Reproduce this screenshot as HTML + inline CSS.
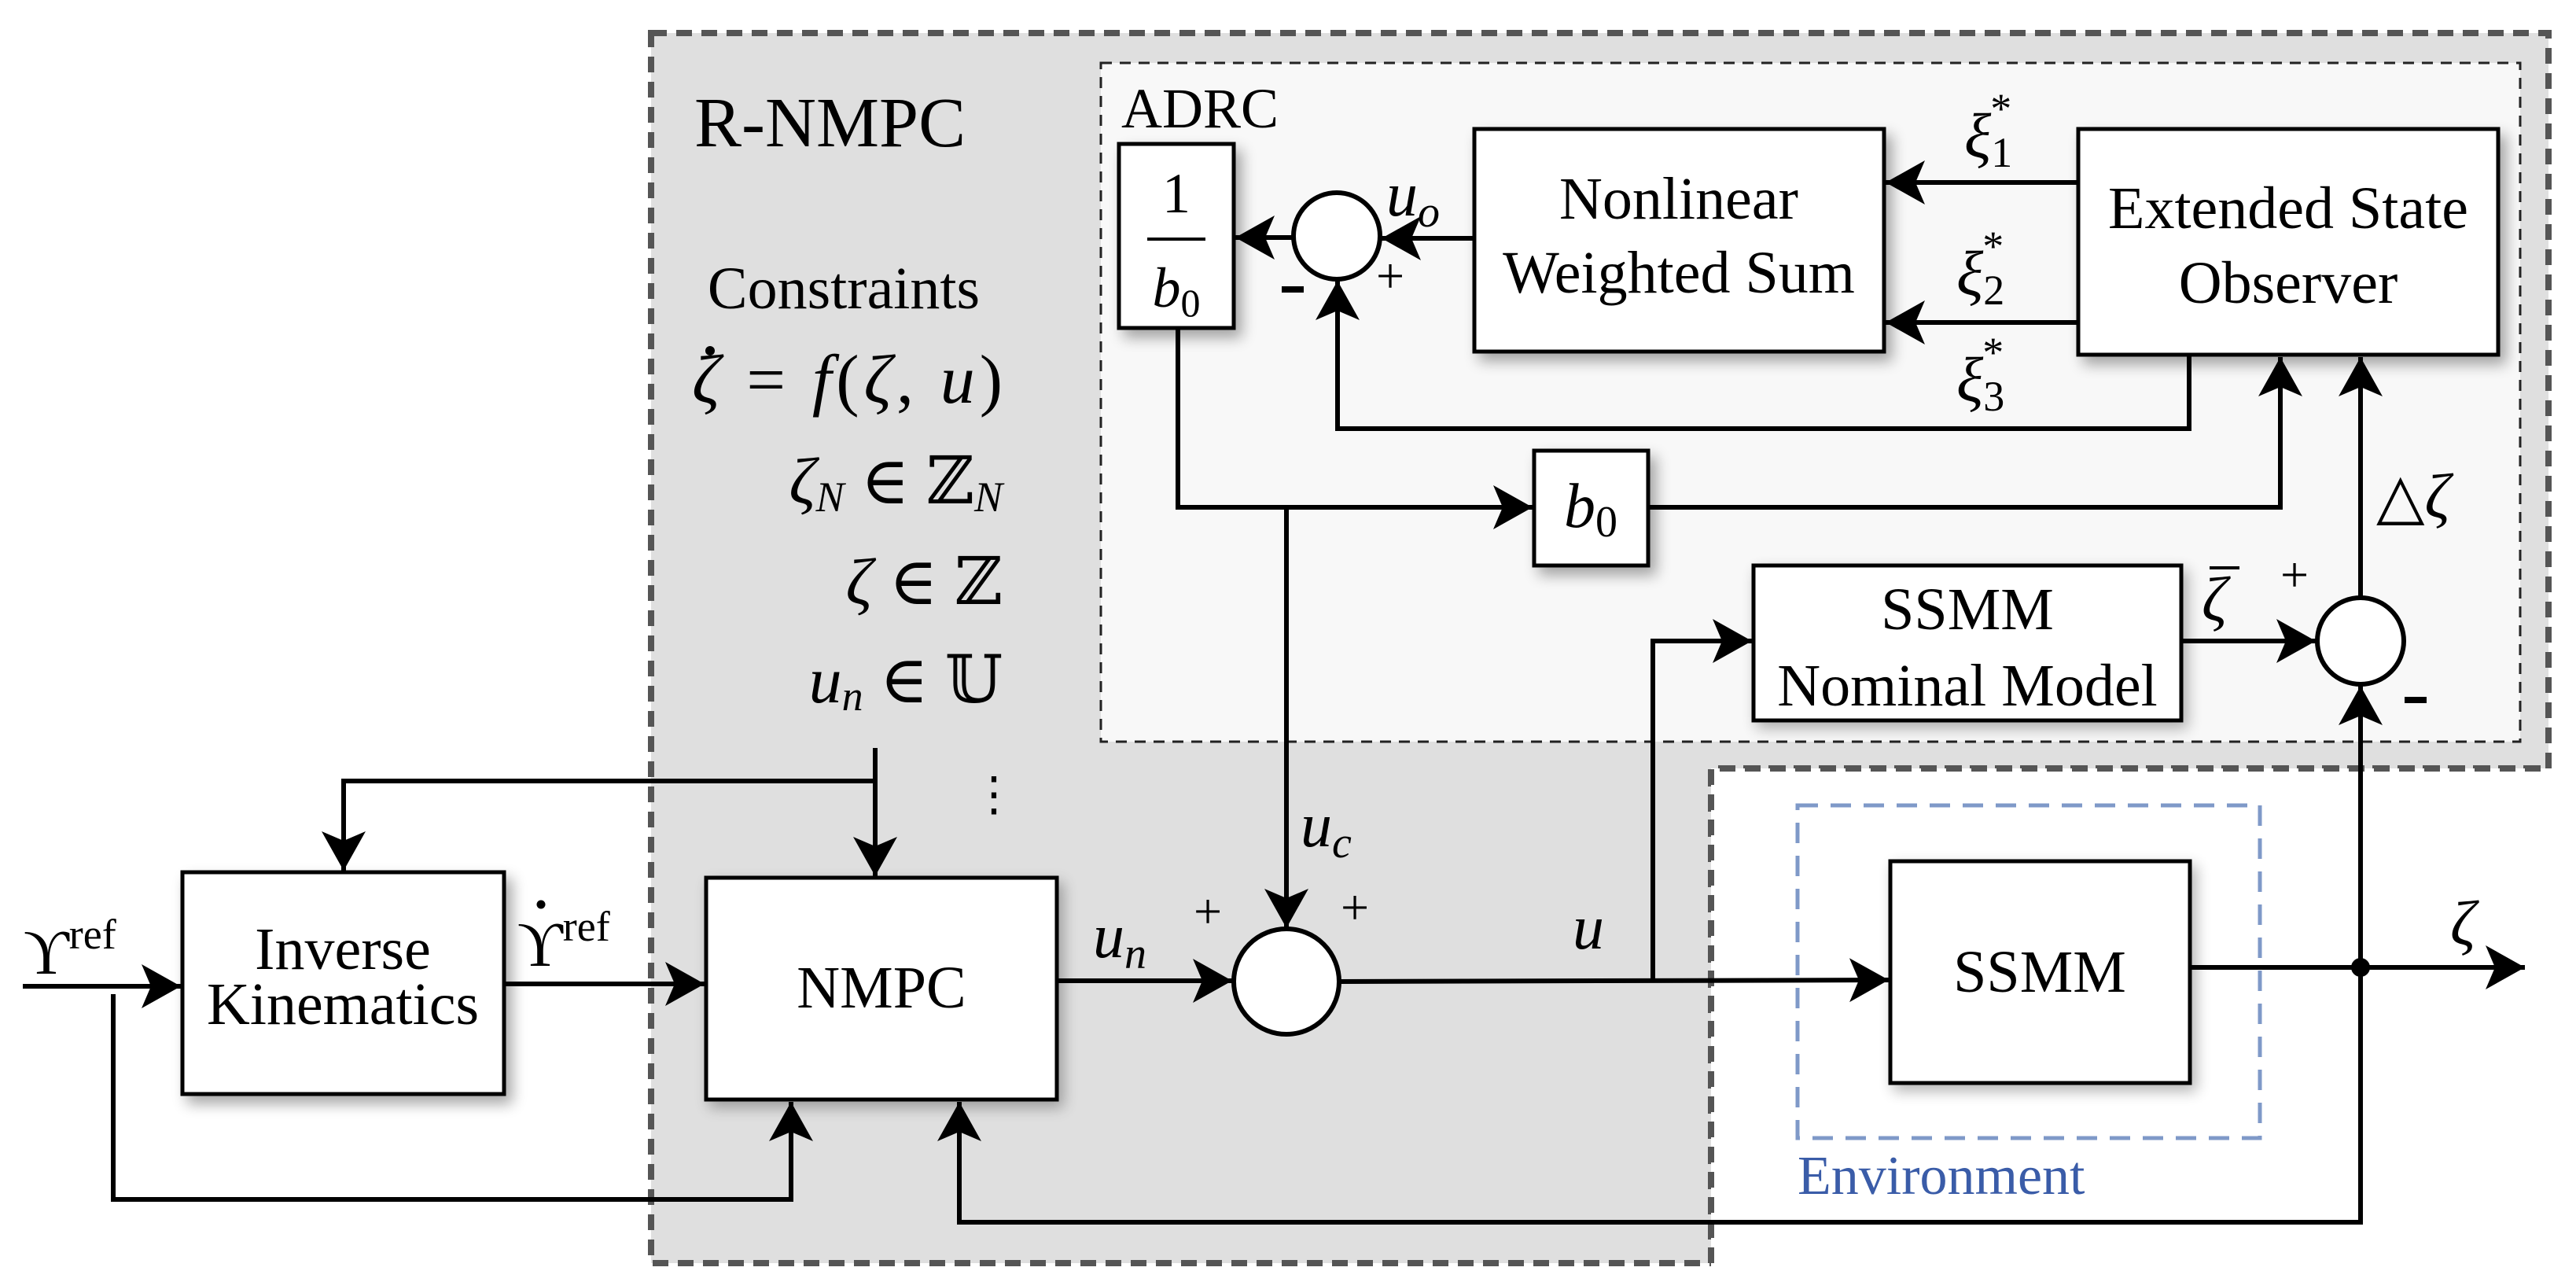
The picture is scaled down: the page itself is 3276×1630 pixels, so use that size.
<!DOCTYPE html>
<html><head><meta charset="utf-8"><style>
html,body{margin:0;padding:0;background:#fff;}
svg{display:block;}
text{font-family:"Liberation Serif","DejaVu Serif",serif;fill:#000;}
.m{font-style:italic;}
</style></head><body>
<svg width="3276" height="1630" viewBox="0 0 3276 1630" xmlns="http://www.w3.org/2000/svg">
<defs>
<marker id="a" markerWidth="60" markerHeight="60" refX="50" refY="28" orient="auto" markerUnits="userSpaceOnUse">
<path d="M0,0 L50,28 L0,56 L12,28 Z" fill="#000"/>
</marker>
<filter id="sh" x="-20%" y="-20%" width="150%" height="150%">
<feGaussianBlur in="SourceAlpha" stdDeviation="9"/>
<feOffset dx="8" dy="10"/>
<feComponentTransfer><feFuncA type="linear" slope="0.35"/></feComponentTransfer>
<feMerge><feMergeNode/><feMergeNode in="SourceGraphic"/></feMerge>
</filter>
<filter id="shb" x="-20%" y="-20%" width="150%" height="150%">
<feGaussianBlur in="SourceAlpha" stdDeviation="9"/>
<feOffset dx="6" dy="8"/>
<feComponentTransfer><feFuncA type="linear" slope="0.3"/></feComponentTransfer>
<feMerge><feMergeNode/><feMergeNode in="SourceGraphic"/></feMerge>
</filter>
</defs>

<path d="M828,42 L3241,42 L3241,977 L2176,977 L2176,1606 L828,1606 Z" fill="#dfdfdf" stroke="#555" stroke-width="8" stroke-dasharray="20,12"/>
<rect x="2176" y="977" width="1065" height="640" fill="#fff"/>
<path d="M2176,1606 L2176,977 L3241,977" fill="none" stroke="#555" stroke-width="8" stroke-dasharray="20,12"/>
<rect x="1400" y="80" width="1805" height="863" fill="#f8f8f8" stroke="#222" stroke-width="3" stroke-dasharray="14,10"/>
<rect x="2286" y="1024" width="588" height="423" fill="none" stroke="#7f99c8" stroke-width="5" stroke-dasharray="26,16"/>

<text x="883" y="186" font-size="90">R-NMPC</text>
<text x="1426" y="162" font-size="72">ADRC</text>
<text x="1073" y="392" font-size="76" text-anchor="middle">Constraints</text>
<text x="1275" y="512" font-size="88" text-anchor="end" textLength="395"><tspan class="m">ζ</tspan> = <tspan class="m">f</tspan>(<tspan class="m">ζ</tspan>, <tspan class="m">u</tspan>)</text>
<circle cx="903" cy="446" r="6" fill="#000"/>
<text x="1275" y="640" font-size="84" text-anchor="end"><tspan class="m">ζ</tspan><tspan class="m" font-size="54" dy="10">N</tspan><tspan dy="-10"> ∈ ℤ</tspan><tspan class="m" font-size="54" dy="10">N</tspan></text>
<text x="1275" y="768" font-size="84" text-anchor="end"><tspan class="m">ζ</tspan> ∈ ℤ</text>
<text x="1275" y="893" font-size="84" text-anchor="end"><tspan class="m">u</tspan><tspan class="m" font-size="54" dy="10">n</tspan><tspan dy="-10"> ∈ 𝕌</tspan></text>
<text x="1264" y="1030" font-size="60" text-anchor="middle">⋮</text>

<g fill="#fff" stroke="#000" stroke-width="5">
<rect x="232" y="1109" width="409" height="282" filter="url(#sh)"/>
<rect x="898" y="1116" width="446" height="282" filter="url(#shb)"/>
<rect x="1423" y="183" width="146" height="234" filter="url(#sh)"/>
<rect x="1875" y="164" width="521" height="283" filter="url(#sh)"/>
<rect x="2643" y="164" width="534" height="287" filter="url(#sh)"/>
<rect x="1951" y="573" width="145" height="146" filter="url(#sh)"/>
<rect x="2230" y="719" width="544" height="197" filter="url(#shb)"/>
<rect x="2404" y="1095" width="381" height="282" filter="url(#shb)"/>
</g>
<g fill="#fff" stroke="#000" stroke-width="6">
<circle cx="1636" cy="1248" r="67"/>
<circle cx="1700" cy="300" r="55"/>
<circle cx="3002" cy="815" r="55"/>
</g>

<g font-size="76" text-anchor="middle">
<text x="436" y="1232">Inverse</text>
<text x="436" y="1302">Kinematics</text>
<text x="1121" y="1281">NMPC</text>
<text x="2135" y="278">Nonlinear</text>
<text x="2135" y="372">Weighted Sum</text>
<text x="2910" y="290">Extended State</text>
<text x="2910" y="385">Observer</text>
<text x="2502" y="800">SSMM</text>
<text x="2502" y="897">Nominal Model</text>
<text x="2594" y="1261">SSMM</text>
</g>
<text x="1496" y="270" font-size="72" text-anchor="middle">1</text>
<line x1="1459" y1="304" x2="1533" y2="304" stroke="#000" stroke-width="4"/>
<text x="1496" y="390" font-size="72" text-anchor="middle"><tspan class="m">b</tspan><tspan font-size="50" dy="12">0</tspan></text>
<text x="2023" y="670" font-size="80" text-anchor="middle"><tspan class="m">b</tspan><tspan font-size="56" dy="12">0</tspan></text>
<text x="2286" y="1518" font-size="70" style="fill:#3a5ca8">Environment</text>

<g stroke="#000" stroke-width="6" fill="none">
<line x1="29" y1="1254" x2="230" y2="1254" marker-end="url(#a)"/>
<polyline points="144,1264 144,1525 1006,1525 1006,1401" marker-end="url(#a)"/>
<line x1="641" y1="1251" x2="896" y2="1251" marker-end="url(#a)"/>
<line x1="1113" y1="951" x2="1113" y2="1114" marker-end="url(#a)"/>
<polyline points="1113,993 437,993 437,1107" marker-end="url(#a)"/>
<line x1="1344" y1="1247" x2="1567" y2="1247" marker-end="url(#a)"/>
<polyline points="1498,417 1498,645 1949,645" marker-end="url(#a)"/>
<line x1="1636" y1="645" x2="1636" y2="1180" marker-end="url(#a)"/>
<line x1="1703" y1="1248" x2="2402" y2="1246" marker-end="url(#a)"/>
<polyline points="2102,1247 2102,815 2228,815" marker-end="url(#a)"/>
<line x1="2774" y1="815" x2="2945" y2="815" marker-end="url(#a)"/>
<line x1="3002" y1="760" x2="3002" y2="454" marker-end="url(#a)"/>
<polyline points="2096,645 2900,645 2900,454" marker-end="url(#a)"/>
<line x1="2643" y1="232" x2="2398" y2="232" marker-end="url(#a)"/>
<line x1="2643" y1="410" x2="2398" y2="410" marker-end="url(#a)"/>
<polyline points="2784,451 2784,545 1701,545 1701,357" marker-end="url(#a)"/>
<line x1="1875" y1="303" x2="1757" y2="303" marker-end="url(#a)"/>
<line x1="1645" y1="302" x2="1571" y2="302" marker-end="url(#a)"/>
<line x1="2785" y1="1230" x2="3211" y2="1230" marker-end="url(#a)"/>
<polyline points="3002,1230 3002,1554 1220,1554 1220,1401" marker-end="url(#a)"/>
<line x1="3002" y1="1554" x2="3002" y2="872" marker-end="url(#a)"/>
</g>
<circle cx="3002" cy="1230" r="12" fill="#000"/>

<g font-size="80">
<text x="30" y="1238">ϒ<tspan font-size="54" dy="-32">ref</tspan></text>
<text x="658" y="1228">ϒ<tspan font-size="54" dy="-32">ref</tspan></text>
<text x="1390" y="1217"><tspan class="m">u</tspan><tspan class="m" font-size="56" dy="14">n</tspan></text>
<text x="1654" y="1076"><tspan class="m">u</tspan><tspan class="m" font-size="56" dy="14">c</tspan></text>
<text x="2000" y="1206" class="m">u</text>
<text x="1763" y="274"><tspan class="m">u</tspan><tspan class="m" font-size="56" dy="14">o</tspan></text>
<text x="2498" y="200" class="m">ξ<tspan font-style="normal" font-size="54" dy="12">1</tspan><tspan font-style="normal" font-size="54" dx="-28" dy="-56">*</tspan></text>
<text x="2488" y="375" class="m">ξ<tspan font-style="normal" font-size="54" dy="12">2</tspan><tspan font-style="normal" font-size="54" dx="-28" dy="-56">*</tspan></text>
<text x="2488" y="510" class="m">ξ<tspan font-style="normal" font-size="54" dy="12">3</tspan><tspan font-style="normal" font-size="54" dx="-28" dy="-56">*</tspan></text>
<text x="3022" y="658">△<tspan class="m">ζ</tspan></text>
<text x="2800" y="789" class="m">ζ</text>
<text x="3116" y="1201" class="m">ζ</text>
</g>
<circle cx="688" cy="1150" r="5.5" fill="#000"/>
<line x1="2810" y1="722" x2="2848" y2="722" stroke="#000" stroke-width="4"/>
<g font-size="64">
<text x="1518" y="1180">+</text>
<text x="1705" y="1175">+</text>
<text x="1750" y="372">+</text>
<text x="2900" y="752">+</text>
</g>
<rect x="1630" y="364" width="28" height="8" fill="#000"/>
<rect x="3058" y="886" width="28" height="8" fill="#000"/>
</svg>
</body></html>
